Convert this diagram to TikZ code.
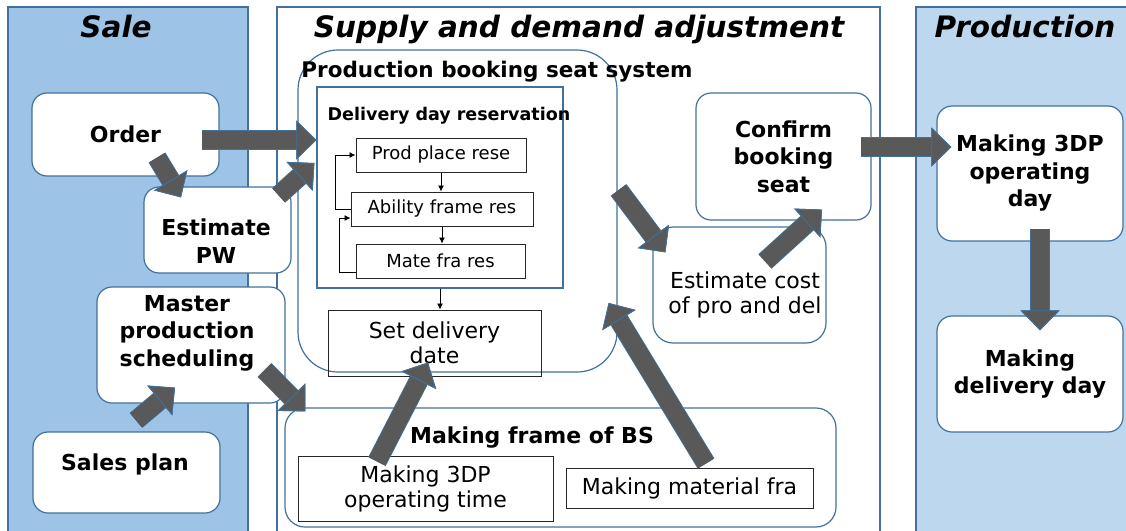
\documentclass[tikz,border=0pt]{standalone}
\usepackage{fontspec}
\setmainfont{DejaVu Sans}
\usepackage{xcolor}
\usepackage{tikz}
\usetikzlibrary{
  arrows.meta,
  positioning,
  calc
}
\definecolor{laneline}{HTML}{41719C}
\definecolor{salefill}{HTML}{9DC3E6}
\definecolor{prodfill}{HTML}{BDD7EE}
\definecolor{arrowgray}{HTML}{595959}
\tikzset{
  lane/.style=
  {
    draw=laneline,
    line width=1.2pt
  },
  lanetitle/.style=
  {
    anchor=base,
    font=\fontsize{29.5}{34}\selectfont\bfseries\itshape
  },
  boldtext/.style=
  {
    align=center,
    inner sep=0pt,
    font=\fontsize{22}{27.5}\selectfont\bfseries
  },
  plaintext/.style=
  {
    align=center,
    inner sep=0pt,
    font=\fontsize{22}{25}\selectfont
  },
  roundbox/.style=
  {
    draw=laneline,
    fill=white,
    line width=1.2pt,
    rounded corners=15pt,
    inner sep=0pt,
    boldtext
  },
  plainbox/.style=
  {
    draw=black!85,
    line width=1pt,
    inner sep=0pt,
    plaintext
  },
  smallbox/.style=
  {
    draw=black!85,
    fill=white,
    line width=1pt,
    inner sep=0pt,
    minimum height=34pt,
    font=\fontsize{18}{20}\selectfont
  },
  smallarrow/.style=
  {
    draw=black,
    line width=0.8pt,
    -{Latex[length=6pt,width=6pt]}
  },
  bigarrow/.style=
  {
    draw=arrowgray,
    line width=18pt,
    -{Triangle[length=20pt,width=39pt,line width=0.8pt,color=laneline,fill=arrowgray]},
    preaction=
    {
      draw=laneline,
      line width=19.6pt,
      -{Triangle[length=20pt,width=39pt,line width=0.8pt,color=laneline,fill=laneline]}
    }
  }
}
\begin{document}
\begin{tikzpicture}[x=1pt, y=-1pt]
  \useasboundingbox (0,0) rectangle (1126,530);
  % swim lanes
  \draw[lane, fill=salefill] (8,7) rectangle (248,545);
  \draw[lane, fill=white] (277,7) rectangle (880,545);
  \draw[lane, fill=prodfill] (916,7) rectangle (1140,545);
  \node[lanetitle] (saletitle) at (116,37) {Sale};
  \node[lanetitle] (suptitle) at (579,37) {Supply and demand adjustment};
  \node[lanetitle] (prodtitle) at (1025,37) {Production};
  % sale
  \node[roundbox, minimum width=187pt, minimum height=83pt] (order) at (125.5,134.5) {Order};
  \node[roundbox, minimum width=147pt, minimum height=86pt] (estpw) at (217.5,230) {};
  \node[boldtext] (estpwtext) at (216,241) {Estimate\\PW};
  \node[roundbox, minimum width=188pt, minimum height=116pt] (master) at (191,345) {};
  \node[boldtext] (mastertext) at (187,333) {Master\\production\\scheduling};
  \node[roundbox, minimum width=187pt, minimum height=81pt] (salesplan) at (126.5,472.5) {};
  \node[boldtext, anchor=base] (salestext) at (125,470) {Sales plan};
  % supply and demand
  \node[roundbox, rounded corners=40pt, fill=none, minimum width=319pt, minimum height=322pt] (pbs) at (457.5,211) {};
  \node[boldtext, anchor=base, font=\fontsize{21.5}{25}\selectfont\bfseries] (pbstitle) at (497,77) {Production booking seat system};
  \node[draw=laneline, line width=1.2pt, fill=white, minimum width=246pt, minimum height=201pt] (ddr) at (440,187.5) {};
  \node[boldtext, anchor=base, font=\fontsize{17.5}{20}\selectfont\bfseries] (ddrtitle) at (449,120) {Delivery day reservation};
  \node[smallbox, minimum width=170pt] (prodplace) at (441,155) {Prod place rese};
  \node[smallbox, minimum width=182pt] (ability) at (442,209) {Ability frame res};
  \node[smallbox, minimum width=169pt] (mate) at (440.5,261) {Mate fra res};
  \node[plainbox, minimum width=213pt, minimum height=66pt] (setdate) at (434.5,343) {Set delivery\\date};
  \draw[smallarrow] (prodplace.south) -- (prodplace.south |- ability.north);
  \draw[smallarrow] (ability.south) -- (ability.south |- mate.north);
  \draw[smallarrow] (ability.west) -- ++(-15,0) |- (prodplace.west);
  \draw[smallarrow] ([shift={(0,11)}]mate.west) -- ++(-16,0) |- ([shift={(0,9)}]ability.west);
  \draw[smallarrow] (ddr.south) -- (ddr.south |- setdate.north);
  \node[roundbox, minimum width=175pt, minimum height=127pt] (confirm) at (783.5,156.5) {Confirm\\booking\\seat};
  \node[roundbox, rounded corners=20pt, minimum width=173pt, minimum height=116pt] (estcost) at (739.5,285) {};
  \node[plaintext] (estcosttext) at (745,295) {Estimate cost\\of pro and del};
  \node[roundbox, rounded corners=20pt, minimum width=551pt, minimum height=119pt] (frame) at (560.5,467.5) {};
  \node[boldtext, anchor=base] (frametitle) at (532,443) {Making frame of BS};
  \node[plainbox, fill=white, minimum width=255pt, minimum height=65pt] (op3dp) at (425.5,488.5) {Making 3DP\\operating time};
  \node[plainbox, fill=white, minimum width=247pt, minimum height=40pt] (matfra) at (689.5,488) {Making material fra};
  % production
  \node[roundbox, minimum width=186pt, minimum height=135pt] (day3dp) at (1030,173.5) {Making 3DP\\operating\\day};
  \node[roundbox, minimum width=186pt, minimum height=116pt] (delday) at (1030,374) {Making\\delivery day};
  % flow
  \draw[bigarrow] ([shift={(-18,5.5)}]order.east) -- ([shift={(19,-71)}]pbs.west);
  \draw[bigarrow] ([shift={(31.5,-19)}]order.south) -- ([shift={(-36.5,11)}]estpw.north);
  \draw[bigarrow] ([shift={(-13,9)}]estpw.north east) -- ([shift={(17,-48)}]pbs.west);
  \draw[bigarrow] ([shift={(9.5,-11)}]salesplan.north) -- ([shift={(-16,-16)}]master.south);
  \draw[bigarrow] ([shift={(-21,25)}]master.east) -- ([shift={(21,4)}]frame.north west);
  \draw[bigarrow] ([shift={(-48.5,6)}]op3dp.north) -- ([shift={(-6.5,-14)}]setdate.south);
  \draw[bigarrow] ([shift={(16.5,-4)}]matfra.north) -- ([shift={(-9,92)}]pbs.east);
  \draw[bigarrow] ([shift={(1,-21)}]pbs.east) -- ([shift={(13,26)}]estcost.north west);
  \draw[bigarrow] ([shift={(25.5,35)}]estcost.north) -- ([shift={(38.5,-11)}]confirm.south);
  \draw[bigarrow] ([shift={(-11,-9.5)}]confirm.east) -- ([shift={(15,-26.5)}]day3dp.west);
  \draw[bigarrow] ([shift={(10,-13)}]day3dp.south) -- ([shift={(10,15)}]delday.north);
\end{tikzpicture}
\end{document}
